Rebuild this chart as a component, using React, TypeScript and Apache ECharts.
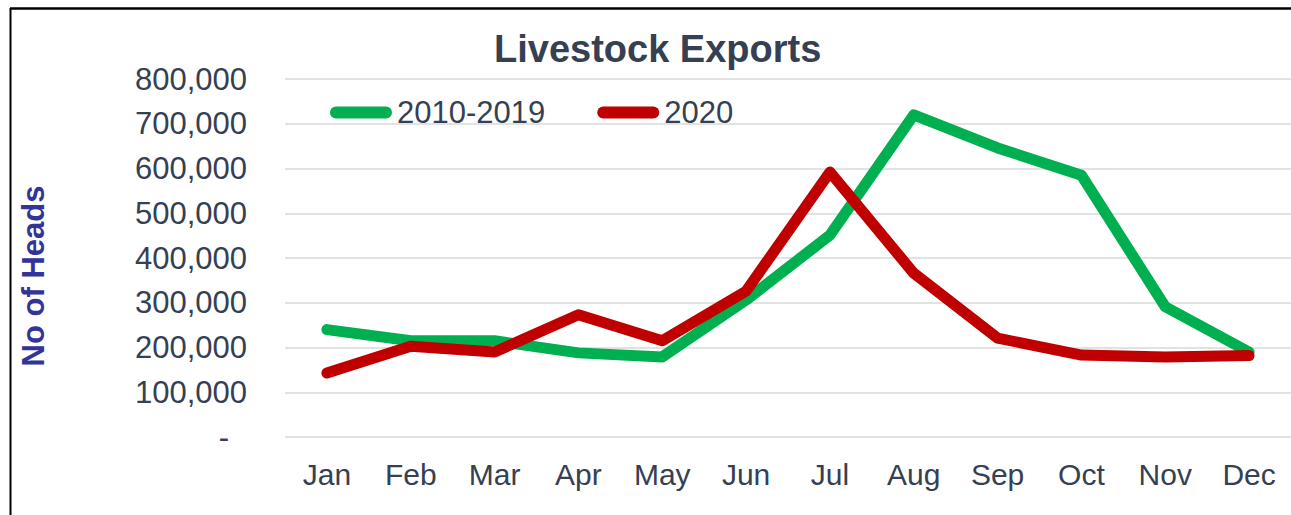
import React, { useEffect, useRef } from "react";
import * as echarts from "echarts";

const months = ["Jan", "Feb", "Mar", "Apr", "May", "Jun", "Jul", "Aug", "Sep", "Oct", "Nov", "Dec"];
const avg2010_2019 = [240000, 215000, 215000, 188000, 179000, 306000, 451000, 720000, 646000, 585000, 291000, 190000];
const year2020 = [143000, 203000, 190000, 273000, 215000, 326000, 592000, 366000, 221000, 183000, 179000, 182000];
const seriesNames = ["2010-2019", "2020"];
const chartTitle = "Livestock Exports";
const yAxisTitle = "No of Heads";

const FONT = "Arial, 'Liberation Sans', sans-serif";
const TEXT = "#354052";

export default function App() {
  const ref = useRef<HTMLDivElement>(null);
  useEffect(() => {
    if (!ref.current) return;
    const chart = echarts.init(ref.current, null, { renderer: "svg" });
    const capsule = "path://M6,0 H56 A6,6 0 0 1 56,12 H6 A6,6 0 0 1 6,0 Z";
    chart.setOption({
      animation: false,
      backgroundColor: "#ffffff",
      title: {
        text: chartTitle,
        left: 494,
        top: 30,
        padding: 0,
        textStyle: { fontFamily: FONT, fontSize: 38, fontWeight: "bold", color: TEXT },
      },
      legend: {
        left: 330,
        top: 97,
        padding: 0,
        itemGap: 52,
        itemWidth: 62,
        itemHeight: 12,
        textStyle: { fontFamily: FONT, fontSize: 31, color: TEXT },
        data: [
          { name: seriesNames[0], icon: capsule, itemStyle: { color: "#00b050" } },
          { name: seriesNames[1], icon: capsule, itemStyle: { color: "#c00000" } },
        ],
      },
      grid: { left: 285, right: 0, top: 79, bottom: 78, containLabel: false },
      xAxis: {
        type: "category",
        data: months,
        boundaryGap: true,
        axisLine: { show: false },
        axisTick: { show: false },
        axisLabel: { fontFamily: FONT, fontSize: 30, color: TEXT, margin: 22 },
      },
      yAxis: {
        type: "value",
        min: 0,
        max: 800000,
        interval: 100000,
        axisLine: { show: false },
        axisTick: { show: false },
        splitLine: { lineStyle: { color: "#d9d9d9", width: 1.5 } },
        axisLabel: {
          fontFamily: FONT,
          fontSize: 31,
          color: TEXT,
          margin: 38,
          formatter: (v: number) => (v === 0 ? "{d|-}" : v.toLocaleString("en-US")),
          rich: { d: { fontFamily: FONT, fontSize: 31, color: TEXT, padding: [0, 18, 0, 0] } },
        },
      },
      graphic: [
        {
          type: "text",
          x: 33,
          y: 276,
          rotation: Math.PI / 2,
          style: {
            text: yAxisTitle,
            fontFamily: FONT,
            fontSize: 31,
            fontWeight: "bold",
            fill: "#333399",
            textAlign: "center",
            textVerticalAlign: "middle",
          },
        },
        { type: "line", shape: { x1: 10, y1: 8.5, x2: 1291, y2: 8.5 }, style: { stroke: "#000", lineWidth: 2.5 } },
        { type: "line", shape: { x1: 10.5, y1: 8, x2: 10.5, y2: 515 }, style: { stroke: "#000", lineWidth: 2 } },
      ],
      series: [
        {
          name: seriesNames[0],
          type: "line",
          data: avg2010_2019,
          symbol: "none",
          color: "#00b050",
          lineStyle: { color: "#00b050", width: 11, cap: "round", join: "round" },
        },
        {
          name: seriesNames[1],
          type: "line",
          data: year2020,
          symbol: "none",
          color: "#c00000",
          lineStyle: { color: "#c00000", width: 11, cap: "round", join: "round" },
        },
      ],
    });
    return () => chart.dispose();
  }, []);
  return <div ref={ref} style={{ position: "fixed", left: 0, top: 0, width: 1291, height: 515 }} />;
}
